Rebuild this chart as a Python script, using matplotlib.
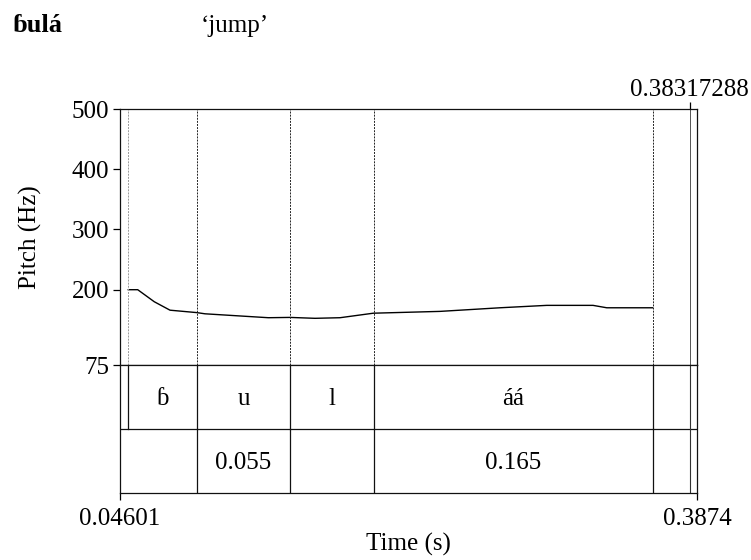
import matplotlib
matplotlib.use("Agg")
import matplotlib.pyplot as plt

plt.rcParams['font.family'] = ['Liberation Serif', 'DejaVu Serif']

# Pitch track (s, Hz)
pitch_time = [0.0509, 0.0565, 0.0663, 0.0756, 0.0914, 0.0963, 0.1338, 0.1466,
              0.1614, 0.1762, 0.1959, 0.2353, 0.2590, 0.2708, 0.2985, 0.3259,
              0.3340, 0.3610]
pitch_hz = [200, 200, 180, 166, 162, 160, 153.5, 154, 152.5, 153.5, 161,
            164, 168, 170, 174, 174, 170, 170]

# Segment tier: boundaries and labels
seg_bounds = [0.0508, 0.0916, 0.1466, 0.1963, 0.3613]
seg_labels = ['ɓ', 'u', 'l', 'áá']

# Duration tier: labelled intervals (start, end)
dur_intervals = [(0.0916, 0.1466), (0.1963, 0.3613)]
dur_bounds = [0.0916, 0.1466, 0.1963, 0.3613]

t_start, t_end = 0.04601, 0.3874
cursor_t = 0.38317288
y_ticks = [75, 200, 300, 400, 500]
y_min, y_max = 75, 500

W, H = 751, 560
fig = plt.figure(figsize=(W / 100, H / 100), dpi=100)


def fx(px):
    return px / W


def fy(py):
    return 1 - py / H


LW = 0.9
FS = 18
ax_p = fig.add_axes([fx(120), fy(365), 577 / W, 256 / H])
ax_t = fig.add_axes([fx(120), fy(493), 577 / W, 128 / H])

for ax in (ax_p, ax_t):
    ax.set_xlim(t_start, t_end)
    for sp in ax.spines.values():
        sp.set_linewidth(LW)
        sp.set_color('#111111')

# Pitch panel
ax_p.set_ylim(y_min, y_max)
ax_p.set_yticks(y_ticks)
ax_p.set_yticklabels([str(v) for v in y_ticks])
ax_p.plot(pitch_time, pitch_hz, color='black', lw=1.0)
for i, b in enumerate(seg_bounds):
    ax_p.axvline(b, color='#9a9a9a' if i == 0 else '#222222', lw=0.7,
                 ls=(0, (2, 1.2)))
ax_p.axvline(cursor_t, color='#555555', lw=0.7)
ax_p.set_xticks([cursor_t])
ax_p.set_xticklabels(['0.38317288'])
ax_p.tick_params(axis='x', bottom=False, labelbottom=False, top=True,
                 labeltop=True, direction='out', length=5, width=LW,
                 labelsize=FS, pad=1)
ax_p.tick_params(axis='y', direction='out', length=5, width=LW,
                 labelsize=FS, pad=3)

# Text tiers
ax_t.set_ylim(0, 2)
ax_t.set_yticks([])
ax_t.axhline(1, color='#111111', lw=LW)
for b in seg_bounds:
    ax_t.plot([b, b], [1, 2], color='#111111', lw=LW)
for b in dur_bounds:
    ax_t.plot([b, b], [0, 1], color='#111111', lw=LW)
ax_t.axvline(cursor_t, color='#333333', lw=0.8)
seg_edges = seg_bounds + [cursor_t]
for lab, a, b in zip(seg_labels, seg_edges[:-1], seg_edges[1:]):
    ax_t.text((a + b) / 2, 1.47, lab, ha='center', va='center', fontsize=FS)
for a, b in dur_intervals:
    ax_t.text((a + b) / 2, 0.47, f"{b - a:.3f}", ha='center', va='center',
              fontsize=FS)
ax_t.set_xticks([t_start, t_end])
ax_t.set_xticklabels(['0.04601', '0.3874'])
ax_t.tick_params(axis='x', direction='out', length=5, width=LW,
                 labelsize=FS, pad=6)

fig.text(fx(408.5), fy(544), 'Time (s)', ha='center', va='center',
         fontsize=FS)
fig.text(fx(30), fy(237), 'Pitch (Hz)', rotation=90, ha='center',
         va='center', fontsize=FS)

# Heading
fig.text(fx(12), fy(32), 'ɓulá', fontsize=FS + 1, fontweight='bold',
         ha='left', va='baseline')
fig.text(fx(201), fy(32), '\u2018jump\u2019', fontsize=FS,
         ha='left', va='baseline')

fig.savefig('out.png', dpi=100)
